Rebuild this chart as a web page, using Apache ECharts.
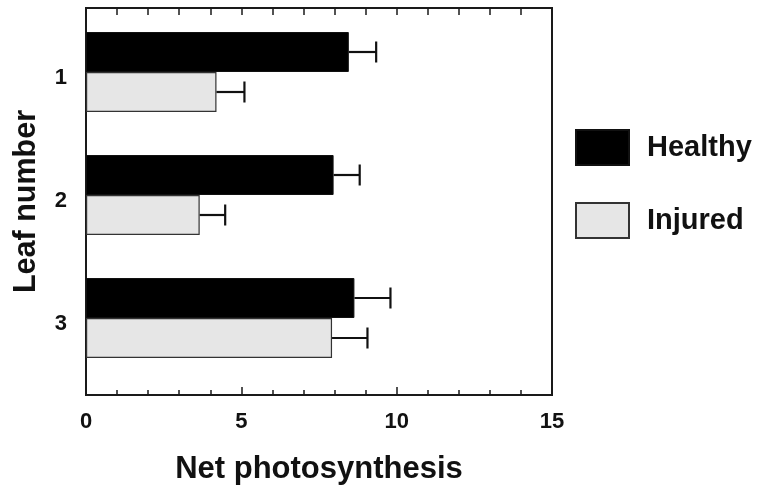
<!DOCTYPE html>
<html>
<head>
<meta charset="utf-8">
<script src="https://cdn.jsdelivr.net/npm/echarts@6/dist/echarts.min.js"></script>
<style>
  html, body { margin: 0; padding: 0; background: #fff; }
  #chart { width: 757px; height: 490px; }
</style>
</head>
<body>
<div id="chart"></div>
<script>
const leaves = ['1', '2', '3']
const healthy = [8.46, 7.97, 8.64]
const healthyErr = [0.88, 0.84, 1.16]
const injured = [4.20, 3.66, 7.92]
const injuredErr = [0.90, 0.82, 1.14]
const xTicks = { min: 0, max: 15, interval: 5 }

const font = "'Liberation Sans', Arial, sans-serif"

// error bar data: [mean, leaf index, mean + err]
function errData(vals, errs) {
  return vals.map((v, i) => [v, i, v + errs[i]])
}

function errRender(offset) {
  return function (params, api) {
    const p0 = api.coord([api.value(0), api.value(1)])
    const p1 = api.coord([api.value(2), api.value(1)])
    const y = p0[1] + offset
    const st = { stroke: '#111', lineWidth: 2.2 }
    return {
      type: 'group',
      children: [
        { type: 'line', shape: { x1: p0[0], y1: y, x2: p1[0], y2: y }, style: st },
        { type: 'line', shape: { x1: p1[0], y1: y - 10.5, x2: p1[0], y2: y + 10.5 }, style: st }
      ]
    }
  }
}

const chart = echarts.init(document.getElementById('chart'))
const option = {
  animation: false,
  textStyle: { fontFamily: font },
  grid: [
    { left: 86, right: 205, top: 8, bottom: 95, show: true, borderColor: '#1a1a1a', borderWidth: 2, backgroundColor: 'transparent' },
    { left: 86, right: 205, top: 10.5, bottom: 110.5 }
  ],
  legend: {
    orient: 'vertical',
    left: 575,
    top: 129,
    padding: 0,
    itemWidth: 53,
    itemHeight: 35,
    itemGap: 36,
    icon: 'rect',
    data: ['Healthy', 'Injured'],
    textStyle: { fontSize: 29, fontWeight: 'bold', color: '#111', fontFamily: font, padding: [0, 0, 0, 13] }
  },
  xAxis: [
    {
      gridIndex: 0, type: 'value', ...xTicks,
      name: 'Net photosynthesis', nameLocation: 'middle', nameGap: 59,
      nameTextStyle: { fontSize: 31, fontWeight: 'bold', color: '#111', fontFamily: font },
      axisLine: { show: true, lineStyle: { color: '#1a1a1a', width: 2 } },
      axisTick: { show: true, inside: true, length: 8, lineStyle: { color: '#1a1a1a', width: 1.5 } },
      minorTick: { show: true, splitNumber: 5, length: 5, lineStyle: { color: '#1a1a1a', width: 1.5 } },
      axisLabel: { fontSize: 22, fontWeight: 'bold', color: '#111', margin: 16, fontFamily: font },
      splitLine: { show: false }
    },
    {
      gridIndex: 0, type: 'value', position: 'top', ...xTicks,
      axisLine: { show: true, lineStyle: { color: '#1a1a1a', width: 2 } },
      axisTick: { show: true, inside: true, length: 7, lineStyle: { color: '#1a1a1a', width: 1.5 } },
      minorTick: { show: true, splitNumber: 5, length: 7, lineStyle: { color: '#1a1a1a', width: 1.5 } },
      axisLabel: { show: false },
      splitLine: { show: false }
    },
    {
      gridIndex: 1, type: 'value', ...xTicks, show: false
    }
  ],
  yAxis: [
    {
      gridIndex: 0, type: 'value', min: 0, max: 1,
      name: 'Leaf number', nameLocation: 'middle', nameGap: 44,
      nameTextStyle: { fontSize: 30.5, fontWeight: 'bold', color: '#111', fontFamily: font },
      axisLine: { show: false }, axisTick: { show: false }, axisLabel: { show: false },
      splitLine: { show: false }
    },
    {
      gridIndex: 1, type: 'category', data: leaves, inverse: true,
      axisLine: { show: false }, axisTick: { show: false },
      axisLabel: { fontSize: 22, fontWeight: 'bold', color: '#111', margin: 19, verticalAlign: 'top', lineHeight: 12, fontFamily: font }
    }
  ],
  series: [
    {
      name: 'Healthy', type: 'bar', xAxisIndex: 2, yAxisIndex: 1,
      barWidth: 40, barGap: '0%', data: healthy,
      itemStyle: { color: '#000', borderColor: '#111', borderWidth: 1 }
    },
    {
      name: 'Injured', type: 'bar', xAxisIndex: 2, yAxisIndex: 1,
      barWidth: 40, barGap: '0%', data: injured,
      itemStyle: { color: '#e6e6e6', borderColor: '#333', borderWidth: 1.2 }
    },
    {
      type: 'custom', xAxisIndex: 2, yAxisIndex: 1,
      renderItem: errRender(-20), data: errData(healthy, healthyErr),
      encode: { x: [0, 2], y: 1 }, z: 3
    },
    {
      type: 'custom', xAxisIndex: 2, yAxisIndex: 1,
      renderItem: errRender(20), data: errData(injured, injuredErr),
      encode: { x: [0, 2], y: 1 }, z: 3
    }
  ]
}
chart.setOption(option)
</script>
</body>
</html>
